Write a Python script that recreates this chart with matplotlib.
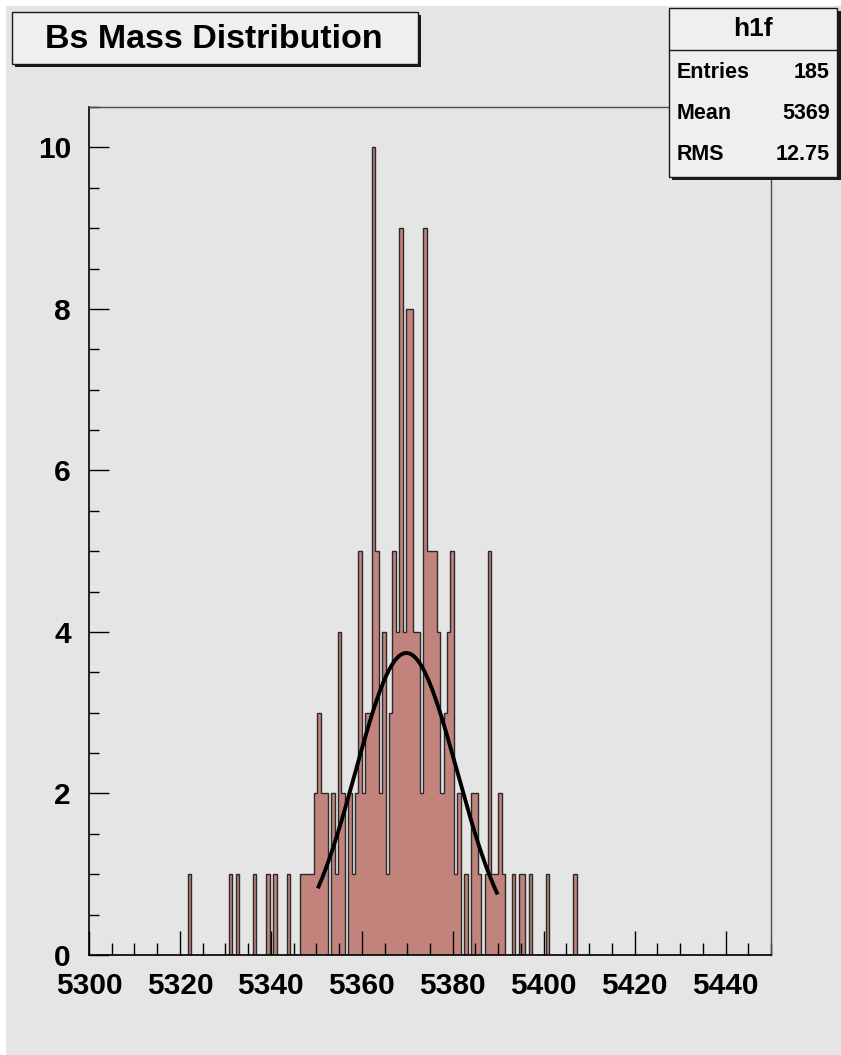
import numpy as np
import matplotlib.pyplot as plt
from matplotlib.patches import Rectangle
from matplotlib.ticker import MultipleLocator

# histogram binning (ROOT style: 200 bins over 5300-5450)
mass_min = 5300.0
mass_max = 5450.0
n_bins = 200
first_filled_bin = 29

# counts for bins 29..142
bin_counts = [
    1, 0, 0, 0, 0, 0, 0, 0, 0, 0, 0, 0,      # 29-40
    1, 0, 1, 0, 0, 0, 0, 1, 0, 0, 0, 1,      # 41-52
    0, 1, 0, 0, 0, 1, 0, 0, 0,               # 53-61
    1, 1, 1, 1, 2, 3, 2, 2, 0, 2, 1, 4,      # 62-73
    2, 0, 2, 1, 2, 5, 2, 3, 3, 10, 5, 2,     # 74-85
    4, 1, 3, 5, 4, 9, 4, 8, 8, 4, 4, 2,      # 86-97
    9, 5, 5, 5, 4, 2, 3, 4, 5, 1, 2, 0,      # 98-109
    1, 0, 2, 2, 1, 0, 1, 5, 1, 1, 2, 1,      # 110-121
    0, 0, 1, 0, 1, 1, 0, 1, 0, 0, 0, 0,      # 122-133
    1, 0, 0, 0, 0, 0, 0, 0, 1,               # 134-142
]

# gaussian fit shown on top
fit_constant = 3.74
fit_mean = 5369.8
fit_sigma = 11.2
fit_lo, fit_hi = 5350.5, 5389.7

title = "Bs Mass Distribution"
hist_name = "h1f"
stats_labels = ["Entries", "Mean", "RMS"]
stats_values = ["185", "5369", "12.75"]

x_ticks = [5300, 5320, 5340, 5360, 5380, 5400, 5420, 5440]
y_ticks = [0, 2, 4, 6, 8, 10]

edges = np.linspace(mass_min, mass_max, n_bins + 1)
counts = np.zeros(n_bins)
counts[first_filled_bin:first_filled_bin + len(bin_counts)] = bin_counts

W, H = 841, 1055
font = "Liberation Sans"
canvas_grey = "#e5e5e5"
box_grey = "#efefef"

fig = plt.figure(figsize=(W / 100, H / 100), dpi=100)
fig.patch.set_facecolor("white")

# canvas background
bg = fig.add_axes([0, 0, 1, 1], zorder=0)
bg.set_xlim(0, W)
bg.set_ylim(H, 0)
bg.axis("off")
bg.add_patch(Rectangle((6, 6), W, H, color=canvas_grey, lw=0))

# main frame
ax = fig.add_axes([89 / W, 100 / H, 682 / W, 848 / H], zorder=1)
ax.set_facecolor("none")
ax.stairs(counts, edges, fill=True, color="#c1837b", lw=0, zorder=1)
ax.stairs(counts, edges, color="#2a2a2a", lw=1.0, zorder=2)

xf = np.linspace(fit_lo, fit_hi, 200)
yf = fit_constant * np.exp(-0.5 * ((xf - fit_mean) / fit_sigma) ** 2)
ax.plot(xf, yf, color="black", lw=2.8, zorder=3)

ax.set_xlim(mass_min, mass_max)
ax.set_ylim(0, 10.5)
ax.set_xticks(x_ticks)
ax.set_yticks(y_ticks)
ax.xaxis.set_minor_locator(MultipleLocator(5))
ax.yaxis.set_minor_locator(MultipleLocator(0.5))
ax.tick_params(axis="x", which="major", direction="in", length=17.3, width=1, pad=12)
ax.tick_params(axis="x", which="minor", direction="in", length=8.6, width=1)
ax.tick_params(axis="y", which="major", direction="in", length=14.4, width=1, pad=13)
ax.tick_params(axis="y", which="minor", direction="in", length=7.2, width=1)
for lab in ax.get_xticklabels() + ax.get_yticklabels():
    lab.set_fontfamily(font)
    lab.set_fontweight("bold")
    lab.set_fontsize(21.5)
for side in ["left", "bottom"]:
    ax.spines[side].set_color("black")
    ax.spines[side].set_linewidth(1.2)
for side in ["top", "right"]:
    ax.spines[side].set_color("#4d4d4d")
    ax.spines[side].set_linewidth(1.0)

# title and stats boxes in pixel coordinates
ov = fig.add_axes([0, 0, 1, 1], zorder=3)
ov.set_xlim(0, W)
ov.set_ylim(H, 0)
ov.axis("off")

ov.add_patch(Rectangle((15, 15), 406, 52, color="#1a1a1a", lw=0))
ov.add_patch(Rectangle((12, 12), 406, 52, fc=box_grey, ec="#1a1a1a", lw=1))
ov.text(214, 40, title, ha="center", va="center", fontsize=24.5,
        fontweight="bold", family=font)

ov.add_patch(Rectangle((672, 11), 169, 169, color="#1a1a1a", lw=0))
ov.add_patch(Rectangle((669, 8), 168, 169, fc=box_grey, ec="#1a1a1a", lw=1))
ov.plot([669, 837], [50, 50], color="#1a1a1a", lw=1)
ov.text(753, 29, hist_name, ha="center", va="center", fontsize=19,
        fontweight="bold", family=font)
for i, (lab, val) in enumerate(zip(stats_labels, stats_values)):
    y = 72 + i * 41.5
    ov.text(677, y, lab, ha="left", va="center", fontsize=15.5,
            fontweight="bold", family=font)
    ov.text(830, y, val, ha="right", va="center", fontsize=15.5,
            fontweight="bold", family=font)

fig.savefig("out.png", dpi=100)
